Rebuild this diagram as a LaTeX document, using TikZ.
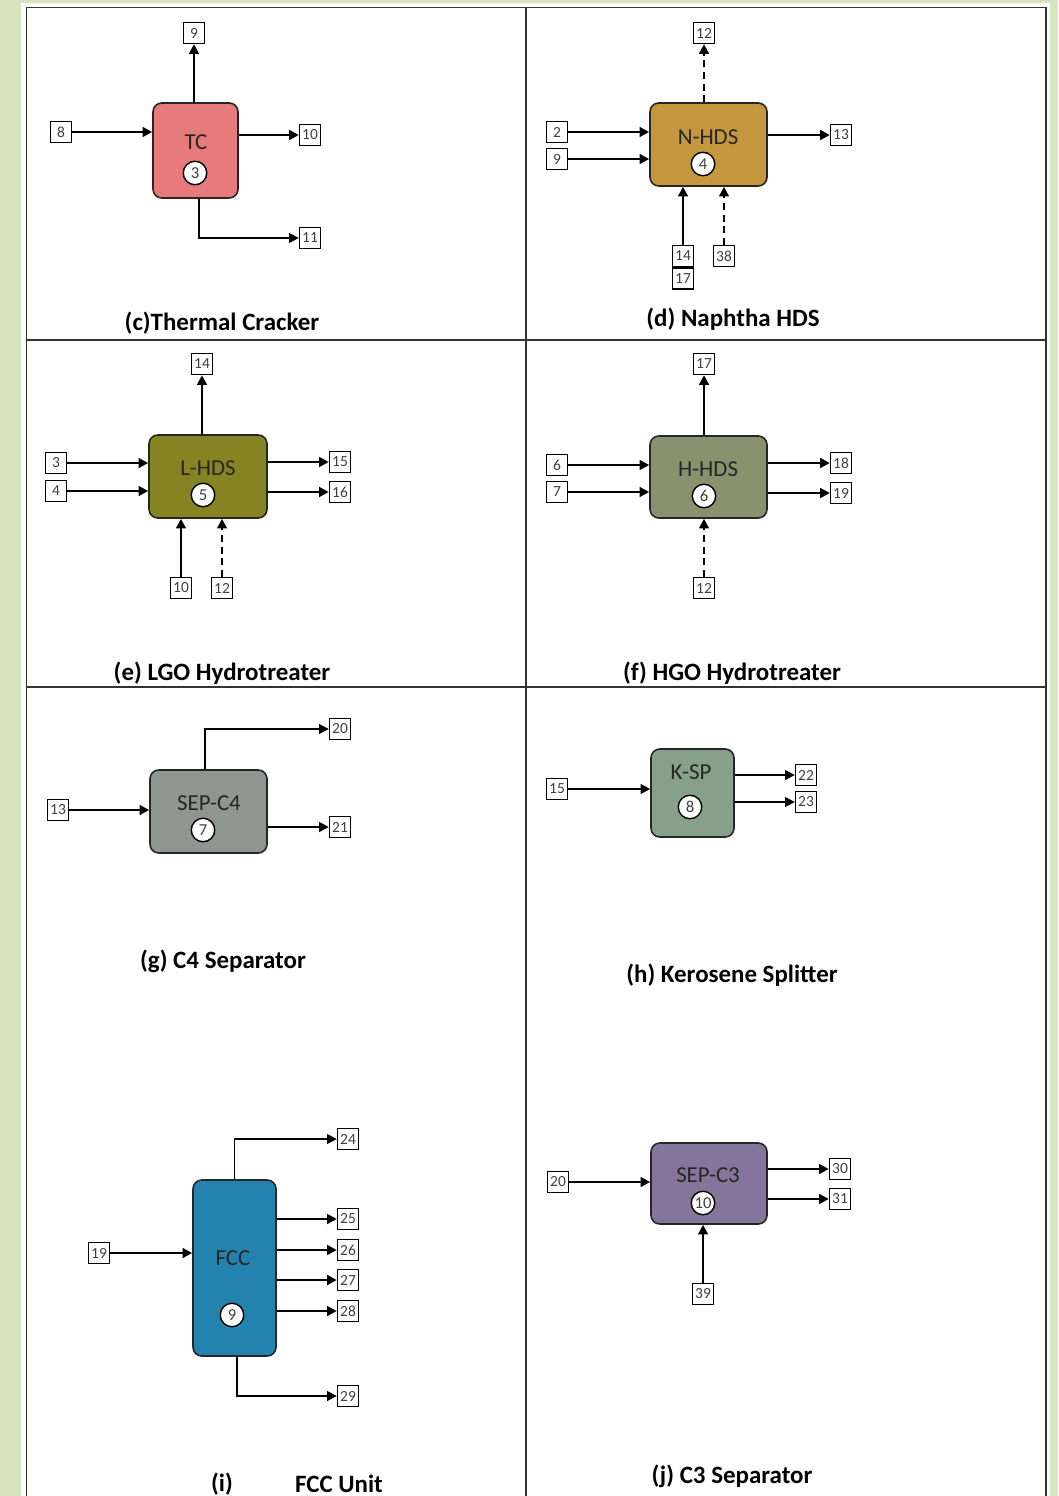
\documentclass[tikz,border=0pt]{standalone}
\usepackage{fontspec}
\setmainfont{Carlito}
\usepackage{xcolor}
\usepackage{tikz}
\usetikzlibrary{arrows.meta, positioning, fit}

\definecolor{pagegreen}{HTML}{D7E4BD}
\definecolor{tcred}{HTML}{E77A7A}
\definecolor{nhdsgold}{HTML}{C4973F}
\definecolor{lhdsolive}{HTML}{868322}
\definecolor{hhdsgreen}{HTML}{8A916E}
\definecolor{sepgray}{HTML}{8F9590}
\definecolor{kspsage}{HTML}{87A08A}
\definecolor{fccblue}{HTML}{2383AE}
\definecolor{sepviolet}{HTML}{85759B}

\begin{document}
\begin{tikzpicture}[x=0.02cm, y=-0.02cm]
    \tikzstyle{unit} = [rectangle, rounded corners=5pt, draw=black!85, line width=0.9pt, inner sep=0pt]
    \tikzstyle{ulabel} = [text=black!85, font=\fontsize{13}{15}\selectfont, inner sep=0pt]
    \tikzstyle{num} = [circle, draw=black, fill=white, line width=0.8pt, minimum size=0.47cm, inner sep=0pt, text=black!75, font=\fontsize{9.5}{10}\selectfont]
    \tikzstyle{tag} = [rectangle, draw=black, fill=white, line width=0.8pt, minimum size=0.42cm, inner sep=0.5pt, text=black!75, font=\fontsize{8.8}{9}\selectfont]
    \tikzstyle{caption} = [font=\fontsize{14.2}{16}\selectfont\bfseries, inner sep=0pt]
    \tikzstyle{flow} = [line width=1.5pt, -{Triangle[length=5.5pt,width=5.5pt]}]
    \tikzstyle{dflow} = [flow, dash pattern=on 4pt off 2.6pt]
    \tikzstyle{pipe} = [line width=1pt, -{Triangle[length=5.5pt,width=5.5pt]}]

    % page and panel grid
    \useasboundingbox (0,0) rectangle (1058,1496);
    \fill[pagegreen] (0,0) rectangle (1058,1496);
    \fill[white] (21,3) rectangle (1050,1496);
    \draw[black!80, line width=0.8pt] (26.5,1496) -- (26.5,7.5) -- (1046,7.5) -- (1046,1496);
    \draw[black!80, line width=0.8pt] (526,7.5) -- (526,1496);
    \draw[black!80, line width=0.8pt] (26.5,340) -- (1046,340);
    \draw[black!80, line width=0.8pt] (26.5,687) -- (1046,687);

    % (c) thermal cracker
    \node (tc) [unit, fill=tcred, fit={(153,103) (238,198)}] {};
    \node [ulabel] at (196,142) {TC};
    \node [num] at (195,173) {3};
    \node (c9) [tag] at (194,33) {9};
    \node (c8) [tag] at (61,132) {8};
    \node (c10) [tag] at (310,135) {10};
    \node (c11) [tag] at (310,238) {11};
    \draw[flow] (c9 |- tc.north) -- (c9.south);
    \draw[flow] (c8.east) -- (c8 -| tc.west);
    \draw[flow] (tc.east |- c10) -- (c10.west);
    \draw[pipe] (tc.south) ++(3.5,0) |- (c11.west);
    \node [caption] at (222,323) {(c)Thermal Cracker};

    % (d) naphtha HDS
    \node (nhds) [unit, fill=nhdsgold, fit={(650,103) (767,186)}] {};
    \node [ulabel] at (708,137) {N-HDS};
    \node [num] at (703,164) {4};
    \node (d12) [tag] at (704,33) {12};
    \node (d2) [tag] at (557,132) {2};
    \node (d9) [tag] at (557,159) {9};
    \node (d13) [tag] at (841,135) {13};
    \node (d14) [tag] at (683,256) {14};
    \node (d17) [tag, below=0pt of d14] {17};
    \node (d38) [tag] at (724,256) {38};
    \draw[dflow] (d12 |- nhds.north) -- (d12.south);
    \draw[flow] (d2.east) -- (d2 -| nhds.west);
    \draw[flow] (d9.east) -- (d9 -| nhds.west);
    \draw[flow] (nhds.east |- d13) -- (d13.west);
    \draw[flow] (d14.north) -- (d14 |- nhds.south);
    \draw[dflow] (d38.north) -- (d38 |- nhds.south);
    \node [caption] at (733,319) {(d) Naphtha HDS};

    % (e) LGO hydrotreater
    \node (lhds) [unit, fill=lhdsolive, fit={(149,435) (267,518)}] {};
    \node [ulabel] at (208,468) {L-HDS};
    \node [num] at (203,495) {5};
    \node (e14) [tag] at (202,364) {14};
    \node (e3) [tag] at (56,463) {3};
    \node (e4) [tag] at (56,491) {4};
    \node (e15) [tag] at (340,462) {15};
    \node (e16) [tag] at (340,492) {16};
    \node (e10) [tag] at (181,588) {10};
    \node (e12) [tag] at (222,588) {12};
    \draw[flow] (e14 |- lhds.north) -- (e14.south);
    \draw[flow] (e3.east) -- (e3 -| lhds.west);
    \draw[flow] (e4.east) -- (e4 -| lhds.west);
    \draw[flow] (lhds.east |- e15) -- (e15.west);
    \draw[flow] (lhds.east |- e16) -- (e16.west);
    \draw[flow] (e10.north) -- (e10 |- lhds.south);
    \draw[dflow] (e12.north) -- (e12 |- lhds.south);
    \node [caption] at (222,673) {(e) LGO Hydrotreater};

    % (f) HGO hydrotreater
    \node (hhds) [unit, fill=hhdsgreen, fit={(650,436) (767,518)}] {};
    \node [ulabel] at (708,469) {H-HDS};
    \node [num] at (704,496) {6};
    \node (f17) [tag] at (704,364) {17};
    \node (f6) [tag] at (557,465) {6};
    \node (f7) [tag] at (557,492) {7};
    \node (f18) [tag] at (841,463) {18};
    \node (f19) [tag] at (841,493) {19};
    \node (f12) [tag] at (704,588) {12};
    \draw[flow] (f17 |- hhds.north) -- (f17.south);
    \draw[flow] (f6.east) -- (f6 -| hhds.west);
    \draw[flow] (f7.east) -- (f7 -| hhds.west);
    \draw[flow] (hhds.east |- f18) -- (f18.west);
    \draw[flow] (hhds.east |- f19) -- (f19.west);
    \draw[dflow] (f12.north) -- (f12 |- hhds.south);
    \node [caption] at (732,673) {(f) HGO Hydrotreater};

    % (g) C4 separator
    \node (sepc4) [unit, fill=sepgray, fit={(150,770) (267,853)}] {};
    \node [ulabel] at (209,803) {SEP-C4};
    \node [num] at (203,830) {7};
    \node (g20) [tag] at (340,729) {20};
    \node (g13) [tag] at (58,810) {13};
    \node (g21) [tag] at (340,827) {21};
    \draw[pipe] (sepc4.north) ++(-3.5,0) |- (g20.west);
    \draw[flow] (g13.east) -- (g13 -| sepc4.west);
    \draw[flow] (sepc4.east |- g21) -- (g21.west);
    \node [caption] at (223,961) {(g) C4 Separator};

    % (h) kerosene splitter
    \node (ksp) [unit, fill=kspsage, fit={(651,749) (734,837)}] {};
    \node [ulabel] at (691,772) {K-SP};
    \node [num] at (690,807) {8};
    \node (h15) [tag] at (557,789) {15};
    \node (h22) [tag] at (806,775) {22};
    \node (h23) [tag] at (806,802) {23};
    \draw[flow] (h15.east) -- (h15 -| ksp.west);
    \draw[pipe] (ksp.east |- h22) -- (h22.west);
    \draw[pipe] (ksp.east |- h23) -- (h23.west);
    \node [caption] at (732,975) {(h) Kerosene Splitter};

    % (i) FCC unit
    \node (fcc) [unit, fill=fccblue, fit={(193,1180) (276,1356)}] {};
    \node [ulabel] at (233,1258) {FCC};
    \node [num] at (232,1315) {9};
    \node (i24) [tag] at (348,1139) {24};
    \node (i19) [tag] at (99,1253) {19};
    \node (i25) [tag] at (348,1219) {25};
    \node (i26) [tag] at (348,1250) {26};
    \node (i27) [tag] at (348,1280) {27};
    \node (i28) [tag] at (348,1311) {28};
    \node (i29) [tag] at (348,1396) {29};
    \draw[pipe] (fcc.north) |- (i24.west);
    \draw[flow] (i19.east) -- (i19 -| fcc.west);
    \draw[flow] (fcc.east |- i25) -- (i25.west);
    \draw[flow] (fcc.east |- i26) -- (i26.west);
    \draw[flow] (fcc.east |- i27) -- (i27.west);
    \draw[flow] (fcc.east |- i28) -- (i28.west);
    \draw[pipe] (fcc.south) ++(2.5,0) |- (i29.west);
    \node [caption] at (222,1484) {(i)};
    \node [caption] at (339,1484) {FCC Unit};

    % (j) C3 separator
    \node (sepc3) [unit, fill=sepviolet, fit={(651,1143) (767,1224)}] {};
    \node [ulabel] at (708,1175) {SEP-C3};
    \node [num] at (703,1203) {10};
    \node (j20) [tag] at (558,1182) {20};
    \node (j30) [tag] at (840,1169) {30};
    \node (j31) [tag] at (840,1199) {31};
    \node (j39) [tag] at (703,1294) {39};
    \draw[flow] (j20.east) -- (j20 -| sepc3.west);
    \draw[flow] (sepc3.east |- j30) -- (j30.west);
    \draw[flow] (sepc3.east |- j31) -- (j31.west);
    \draw[flow] (j39.north) -- (j39 |- sepc3.south);
    \node [caption] at (732,1476) {(j) C3 Separator};
\end{tikzpicture}
\end{document}
